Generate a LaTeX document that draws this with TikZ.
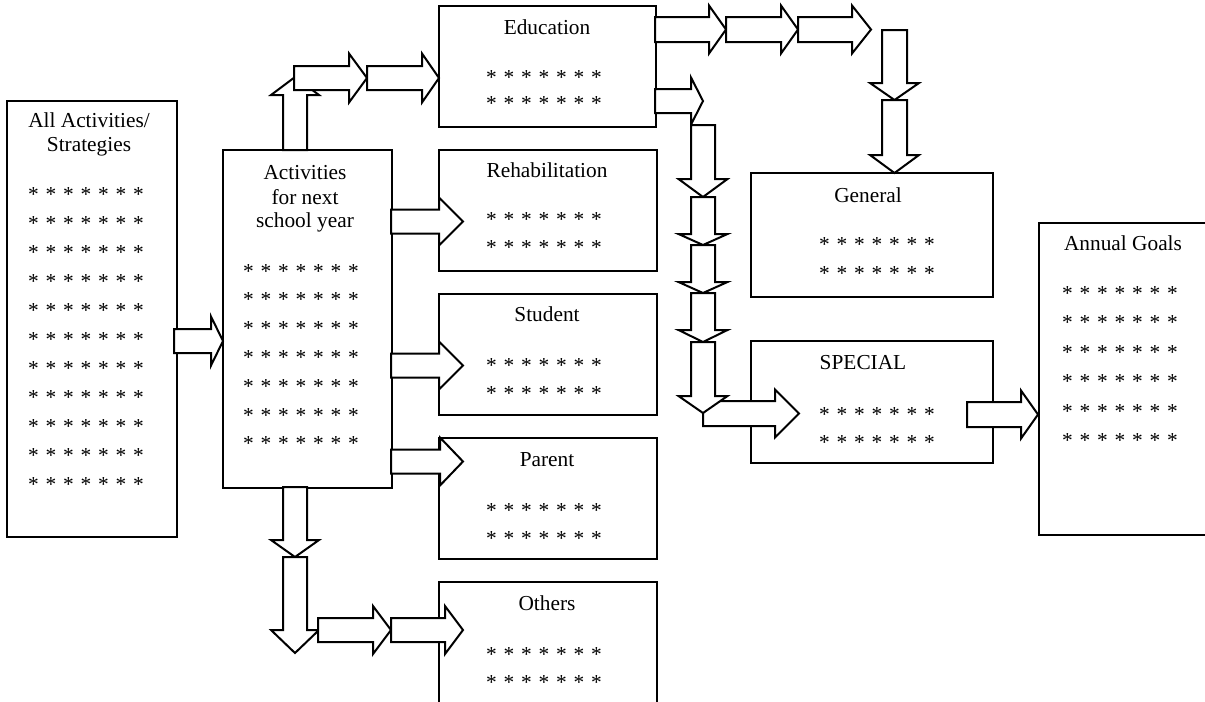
\documentclass[tikz,border=0pt]{standalone}
\usepackage{fontspec}
\setmainfont{Liberation Serif}
\usetikzlibrary{fit}
\newcommand{\starrow}{*\kern.32em*\kern.32em*\kern.32em*\kern.32em*\kern.32em*\kern.32em*}
% right-pointing block arrow: xs, xh, xt, yc, shaft half, head half
\newcommand{\blockR}[6]{\draw[barrow] (#1,#4-#5) -- (#2,#4-#5) -- (#2,#4-#6) -- (#3,#4) -- (#2,#4+#6) -- (#2,#4+#5) -- (#1,#4+#5) -- cycle;}
% vertical block arrow: ys, yh, yt, xc, shaft half, head half
\newcommand{\blockV}[6]{\draw[barrow] (#4-#5,#1) -- (#4-#5,#2) -- (#4-#6,#2) -- (#4,#3) -- (#4+#6,#2) -- (#4+#5,#2) -- (#4+#5,#1) -- cycle;}
\begin{document}
\begin{tikzpicture}[x=0.75pt,y=-0.75pt,
  box/.style={draw, line width=1.5pt, inner sep=0pt},
  barrow/.style={draw, fill=white, line width=1.5pt, line join=miter},
  ttl/.style={anchor=base, inner sep=0pt, font=\fontsize{16}{18}\selectfont},
  strs/.style={anchor=base, inner sep=0pt, font=\fontsize{16}{18}\selectfont}]
\useasboundingbox (0,0) rectangle (1205,701);
% boxes
\node[box, fit={(7,101) (177,537)}] (all) {};
\node[box, fit={(223,150) (392,488)}] (act) {};
\node[box, fit={(439,6) (656,127)}] (edu) {};
\node[box, fit={(439,150) (657,271)}] (reh) {};
\node[box, fit={(439,294) (657,415)}] (stu) {};
\node[box, fit={(439,438) (657,559)}] (par) {};
\node[box, fit={(439,582) (657,720)}] (oth) {};
\node[box, fit={(751,173) (993,297)}] (gen) {};
\node[box, fit={(751,341) (993,463)}] (spe) {};
\node[box, fit={(1039,223) (1220,535)}] (ann) {};
% titles
\node[ttl] (t1) at (89,127) {All Activities/};
\node[ttl] (t2) at (89,151) {Strategies};
\node[ttl] (t3) at (305,179) {Activities};
\node[ttl] (t4) at (305,204) {for next};
\node[ttl] (t5) at (305,227) {school year};
\node[ttl] (t6) at (547,34) {Education};
\node[ttl] (t7) at (547,177) {Rehabilitation};
\node[ttl] (t8) at (547,321) {Student};
\node[ttl] (t9) at (547,466) {Parent};
\node[ttl] (t10) at (547,610) {Others};
\node[ttl] (t11) at (868,202) {General};
\node[ttl] (t12) at (863,369) {SPECIAL};
\node[ttl] (t13) at (1123,250) {Annual Goals};
% stars
\foreach \i in {0,...,10} \node[strs] (sa\i) at (86,201+29*\i) {\starrow};
\foreach \i in {0,...,6} \node[strs] (sb\i) at (301,278+28.8*\i) {\starrow};
\foreach \i/\y in {0/84,1/110} \node[strs] (se\i) at (544,\y) {\starrow};
\foreach \i/\y in {0/226,1/254} \node[strs] (sr\i) at (544,\y) {\starrow};
\foreach \i/\y in {0/372,1/400} \node[strs] (ss\i) at (544,\y) {\starrow};
\foreach \i/\y in {0/517,1/545} \node[strs] (sp\i) at (544,\y) {\starrow};
\foreach \i/\y in {0/661,1/689} \node[strs] (so\i) at (544,\y) {\starrow};
\foreach \i/\y in {0/251,1/280} \node[strs] (sg\i) at (877,\y) {\starrow};
\foreach \i/\y in {0/421,1/449} \node[strs] (sx\i) at (877,\y) {\starrow};
\foreach \i in {0,...,5} \node[strs] (sn\i) at (1120,300+29.5*\i) {\starrow};
% block arrows
\blockR{174}{211}{223}{341}{12}{24.5}
\blockV{150}{95}{77}{295}{12}{24}
\blockR{294}{349}{367}{78}{12}{24.5}
\blockR{367}{422}{439}{78}{12}{24.5}
\blockR{655}{709}{726}{29.5}{12.5}{24}
\blockR{726}{781}{798}{29.5}{12.5}{24}
\blockR{798}{852}{871}{29.5}{12.5}{24}
\blockV{30}{83}{100}{894.5}{12.5}{24.5}
\blockV{100}{155}{173}{894.5}{12.5}{24.5}
\blockR{655}{691}{703}{101}{12}{23.5}
\blockV{125}{179}{197}{703}{12}{24.5}
\blockV{197}{234}{245}{703}{12}{24.5}
\blockV{245}{282}{293}{703}{12}{24.5}
\blockV{293}{330}{342}{703}{12}{24.5}
\blockR{703}{775}{799}{413.5}{12.5}{24}
\blockV{342}{396}{413}{703}{12}{24.5}
\blockR{967}{1021}{1038}{414.5}{12.5}{24}
\blockR{391}{439}{463}{221.5}{12}{24}
\blockR{391}{439}{463}{365.5}{12}{24}
\blockR{391}{440}{463}{461.5}{12}{24}
\blockV{487}{540}{557}{295}{12}{24}
\blockV{557}{630}{653}{295}{12}{24}
\blockR{318}{373}{391}{630}{12}{24}
\blockR{391}{445}{463}{630}{12}{24}
\end{tikzpicture}
\end{document}
